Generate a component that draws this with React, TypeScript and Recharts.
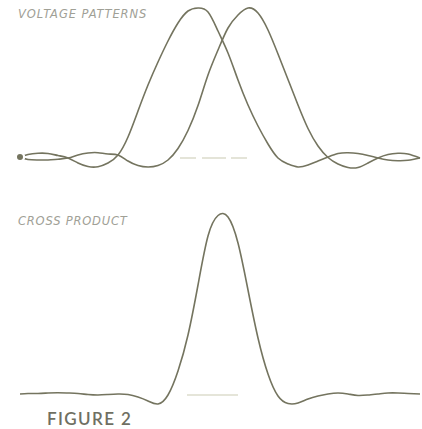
import React from "react";
import { LineChart, Line, XAxis, YAxis, ReferenceLine } from "recharts";

// sample positions along the horizontal axis
const positions = [
  20, 28, 38, 48, 58, 68, 78, 88, 98, 108, 118, 128, 138, 148, 158, 168, 178, 188, 198, 208,
  218, 228, 238, 248, 258, 268, 278, 288, 298, 308, 318, 328, 338, 348, 358, 368, 378, 388, 398, 408, 420,
];

// voltage pattern A (left beam)
const voltageA = [
  1, 3.5, 4.7, 4.5, 2.5, 0, -5, -8.5, -8.7, -5, 3, 21, 47, 73, 96, 117, 135, 147, 150, 146,
  127, 105, 78, 53, 32, 14, 0, -6, -9, -7, -3, 1, 4.5, 5.3, 4.5, 2.5, 0, -2, -2.7, -2.3, 0,
];

// voltage pattern B (right beam)
const voltageB = [
  1, -1.5, -2, -2, -1.2, 0, 3, 5, 5.3, 4, 3, -3, -7.5, -9, -7.5, -2, 9.5, 27.5, 52.5, 83,
  108, 130, 143, 150, 145, 128, 104, 78.5, 53, 29.5, 12, 0.5, -6, -9.5, -9.5, -5, 0, 3.5, 4.7, 4, 0,
];

// cross product
const crossProduct = [
  0, 0.5, 0.5, 1, 1.3, 1, 0.5, -0.5, -1, -0.5, 0, -0.5, -3, -7, -10, -1, 23, 59, 109, 158,
  178.5, 177, 151, 104, 56, 20, -2, -9.5, -9, -5, -2, 0, 1, 0, -1.5, -1, 0, 1, 1, 0.5, 0,
];

const topData = positions.map((x, i) => ({ x, a: voltageA[i], b: voltageB[i] }));
const bottomData = positions.map((x, i) => ({ x, c: crossProduct[i] }));

const INK = "#74745f";
const FAINT = "#dcdccc";

export default function App() {
  return (
    <div
      style={{
        position: "absolute",
        left: 0,
        top: 0,
        width: 422,
        height: 429,
        background: "#ffffff",
        overflow: "hidden",
      }}
    >
      <div style={{ position: "absolute", left: 0, top: 0 }}>
        <LineChart width={422} height={180} data={topData} margin={{ top: 0, right: 0, bottom: 0, left: 0 }}>
          <XAxis dataKey="x" type="number" domain={[0, 422]} hide />
          <YAxis type="number" domain={[-22, 158]} hide />
          <ReferenceLine
            segment={[{ x: 180, y: 0 }, { x: 253, y: 0 }]}
            stroke={FAINT}
            strokeWidth={1.5}
            strokeDasharray="16 6 24 5"
          />
          <Line type="natural" dataKey="a" stroke={INK} strokeWidth={1.6} dot={false} isAnimationActive={false} />
          <Line type="natural" dataKey="b" stroke={INK} strokeWidth={1.6} dot={false} isAnimationActive={false} />
        </LineChart>
      </div>
      <div style={{ position: "absolute", left: 0, top: 200 }}>
        <LineChart width={422} height={210} data={bottomData} margin={{ top: 0, right: 0, bottom: 0, left: 0 }}>
          <XAxis dataKey="x" type="number" domain={[0, 422]} hide />
          <YAxis type="number" domain={[-16, 194]} hide />
          <ReferenceLine
            segment={[{ x: 187, y: -1 }, { x: 238, y: -1 }]}
            stroke={FAINT}
            strokeWidth={1.5}
          />
          <Line type="natural" dataKey="c" stroke={INK} strokeWidth={1.6} dot={false} isAnimationActive={false} />
        </LineChart>
      </div>
      <svg width={422} height={429} style={{ position: "absolute", left: 0, top: 0, pointerEvents: "none" }}>
        <text
          x={18}
          y={18}
          fontFamily="DejaVu Sans"
          fontStyle="italic"
          fontSize={11.5}
          letterSpacing={0.9}
          fill="#a0a096"
        >
          VOLTAGE PATTERNS
        </text>
        <text
          x={18}
          y={225}
          fontFamily="DejaVu Sans"
          fontStyle="italic"
          fontSize={11.5}
          letterSpacing={0.8}
          fill="#a0a096"
        >
          CROSS PRODUCT
        </text>
        <text x={47} y={425} fontFamily="Lato" fontWeight={600} fontSize={17} letterSpacing={1.4} fill="#6f6f62">
          FIGURE 2
        </text>
      </svg>
    </div>
  );
}
